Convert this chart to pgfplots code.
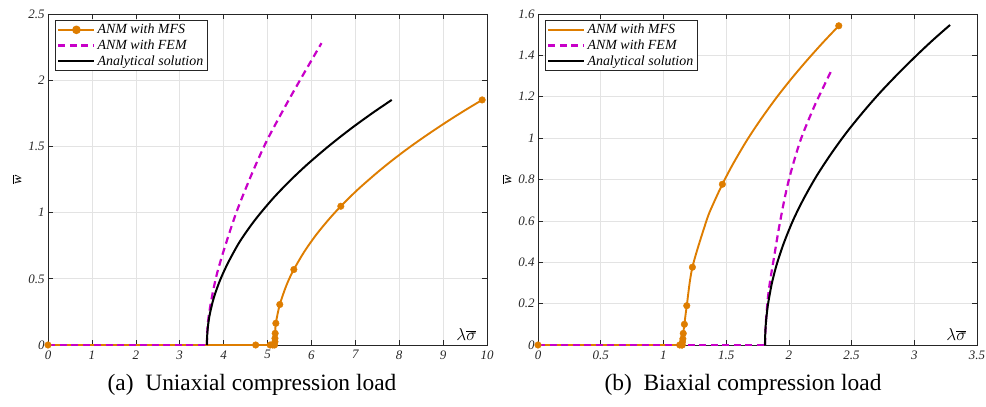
\documentclass[border=0pt]{standalone}
\usepackage{fontspec}
\setmainfont{Liberation Serif}
\usepackage{pgfplots}
\pgfplotsset{compat=1.18}
\definecolor{mfs}{RGB}{222,125,0}
\definecolor{fem}{RGB}{200,0,200}
\definecolor{axgray}{RGB}{38,38,38}

\pgfplotsset{
  bucklestyle/.style={
    scale only axis, width=439bp, height=331bp, anchor=south west,
    clip=false,
    axis line style={axgray, line width=0.6bp},
    tick style={axgray, line width=0.6bp}, major tick length=5bp,
    grid=major, grid style={gray!22, line width=0.6bp},
    /pgf/number format/assume math mode=true,
    xticklabel={\pgfmathprintnumber{\tick}},
    yticklabel={\pgfmathprintnumber{\tick}},
    ticklabel style={font=\fontsize{13}{13}\selectfont\itshape, text=axgray},
    xticklabel style={yshift=-2bp},
    ylabel={$\overline{\mbox{\itshape w}}$},
    ylabel style={font=\fontsize{14}{14}\selectfont},
    xlabel={$\lambda\overline{\sigma}$},
    xlabel style={at={(rel axis cs:1,0)}, anchor=south east, xshift=-7bp,
      yshift=1bp, font=\fontsize{16}{16}\selectfont},
    legend style={at={(rel axis cs:0.016,0.982)}, anchor=north west,
      draw=axgray, line width=0.6bp,
      font=\fontsize{14}{16}\selectfont\itshape, cells={anchor=west},
      inner xsep=2bp, inner ysep=2bp, row sep=0.5bp},
    legend image code/.code={\draw[mark repeat=2,mark phase=2,#1]
      plot coordinates {(0bp,0bp)(18bp,0bp)(36bp,0bp)};},
  },
  mfsmark/.style={only marks, mark=*, mark size=3.3bp,
    mark options={solid, draw=mfs, fill=mfs}},
  femline/.style={draw=fem, line width=2.2bp, dash pattern=on 7bp off 4.5bp, mark=none},
  anline/.style={draw=black, line width=2bp, mark=none},
  curve/.style={smooth, tension=0.5},
}

\begin{document}
\begin{tikzpicture}
\useasboundingbox (0bp,0bp) rectangle (986bp,407bp);

% (a) uniaxial
\begin{axis}[bucklestyle, at={(48bp,62bp)},
  xmin=0, xmax=10, ymin=0, ymax=2.5,
  xtick={0,1,...,10}, ytick={0,0.5,1,1.5,2,2.5}]
\addlegendimage{draw=mfs, line width=1.9bp, mark=*, mark size=3.3bp,
  mark options={solid, draw=mfs, fill=mfs}}
\addlegendimage{femline}
\addlegendimage{anline}
\addplot[draw=mfs, line width=1.9bp, forget plot] coordinates {(0,0)(5.16,0)};
\addplot[draw=mfs, line width=1.9bp, curve, forget plot] coordinates {
  (5.16,0)(5.17,0.025)(5.17,0.05)(5.175,0.088)
  (5.19,0.164)(5.28,0.306)(5.44,0.458)(5.60,0.570)(5.85,0.711)(6.12,0.837)
  (6.40,0.950)(6.67,1.048)(7.05,1.172)(7.49,1.300)(7.85,1.397)(8.25,1.497)
  (8.65,1.590)(9.08,1.685)(9.48,1.769)(9.89,1.851)};
\addplot[mfsmark, forget plot] coordinates {
  (0,0)(4.73,0)(5.06,0)(5.12,0)(5.16,0)(5.17,0.025)(5.17,0.05)(5.175,0.088)
  (5.19,0.164)(5.28,0.306)(5.60,0.570)(6.67,1.048)(9.89,1.851)};
\addplot[femline, forget plot] coordinates {(0,0)(3.62,0)};
\addplot[femline, curve, forget plot] coordinates {
  (3.62,0)(3.622,0.05)(3.63,0.11)(3.65,0.19)(3.69,0.28)(3.75,0.39)(3.85,0.54)
  (4.03,0.742)(4.30,1.01)(4.64,1.29)(4.98,1.54)(5.40,1.80)(5.74,2.0)(6.23,2.28)};
\addplot[anline, curve, forget plot] coordinates {
  (3.62,0)(3.623,0.05)(3.632,0.1)(3.65,0.16)(3.69,0.24)(3.78,0.36)(3.92,0.49)
  (4.1,0.62)(4.35,0.771)(4.6,0.893)(4.83,0.992)(5.15,1.116)(5.51,1.240)
  (5.9,1.362)(6.35,1.490)(6.7,1.583)(7.03,1.666)(7.43,1.761)(7.83,1.851)};
\legend{ANM with MFS, ANM with FEM, Analytical solution}
\end{axis}

% (b) biaxial
\begin{axis}[bucklestyle, at={(538bp,62bp)},
  xmin=0, xmax=3.5, ymin=0, ymax=1.6,
  xtick={0,0.5,...,3.5}, ytick={0,0.2,...,1.6}]
\addlegendimage{draw=mfs, line width=1.9bp, mark=none}
\addlegendimage{femline}
\addlegendimage{anline}
\addplot[draw=mfs, line width=1.9bp, forget plot] coordinates {(0,0)(1.15,0)};
\addplot[draw=mfs, line width=1.9bp, curve, forget plot] coordinates {
  (1.15,0)(1.152,0.015)(1.155,0.03)(1.158,0.056)
  (1.167,0.10)(1.186,0.19)(1.231,0.376)(1.345,0.604)(1.40,0.686)(1.47,0.777)
  (1.55,0.870)(1.664,0.988)(1.78,1.094)(1.903,1.197)(2.02,1.287)(2.143,1.375)
  (2.27,1.461)(2.398,1.543)};
\addplot[mfsmark, forget plot] coordinates {
  (0,0)(1.13,0)(1.145,0)(1.15,0)(1.152,0.015)(1.155,0.03)(1.158,0.056)
  (1.167,0.10)(1.186,0.19)(1.231,0.376)(1.47,0.777)(2.398,1.543)};
\addplot[femline, forget plot] coordinates {(0,0)(1.81,0)};
\addplot[femline, curve, forget plot] coordinates {
  (1.81,0)(1.812,0.05)(1.816,0.1)(1.823,0.16)(1.835,0.24)(1.853,0.32)
  (1.876,0.403)(1.93,0.596)(1.996,0.789)(2.089,0.983)(2.196,1.144)(2.27,1.24)
  (2.347,1.337)};
\addplot[anline, curve, forget plot] coordinates {
  (1.81,0)(1.811,0.04)(1.816,0.1)(1.825,0.156)(1.837,0.209)(1.865,0.3)
  (1.903,0.389)(1.96,0.493)(2.036,0.606)(2.12,0.709)(2.222,0.818)(2.34,0.927)
  (2.462,1.029)(2.6,1.132)(2.727,1.22)(2.87,1.311)(3.02,1.401)(3.15,1.475)
  (3.285,1.547)};
\legend{ANM with MFS, ANM with FEM, Analytical solution}
\end{axis}

\node[font=\fontsize{23.5}{24}\selectfont] at (252bp,22bp) {(a)\enspace Uniaxial compression load};
\node[font=\fontsize{23.5}{24}\selectfont] at (743bp,22bp) {(b)\enspace Biaxial compression load};
\end{tikzpicture}
\end{document}
